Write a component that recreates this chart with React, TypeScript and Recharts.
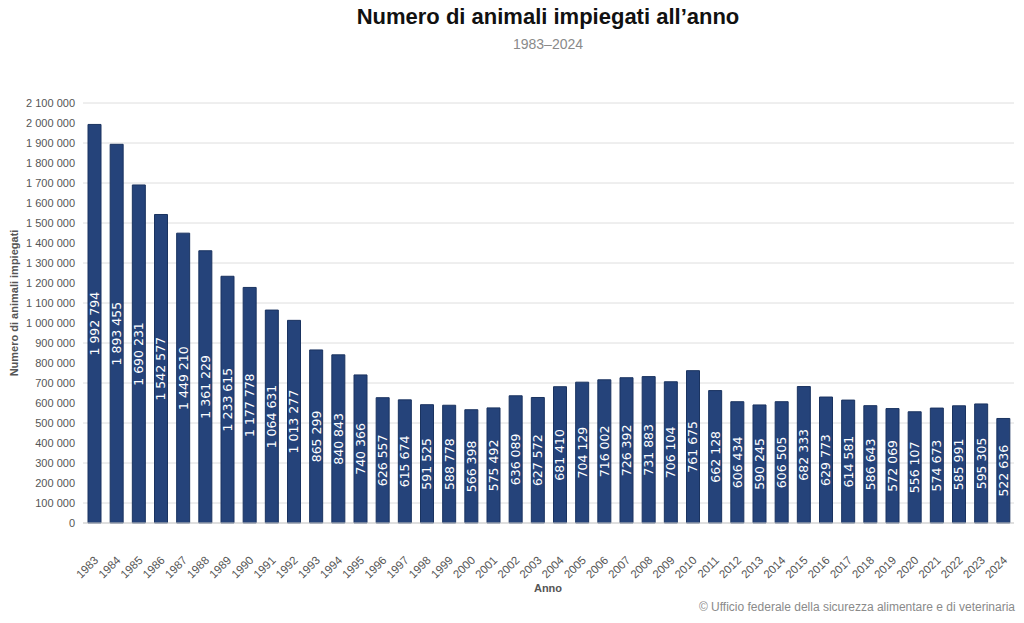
import React from 'react';
import { BarChart, Bar, XAxis, YAxis, CartesianGrid, LabelList } from 'recharts';

const YEARS = [
  '1983', '1984', '1985', '1986', '1987', '1988', '1989', '1990', '1991', '1992',
  '1993', '1994', '1995', '1996', '1997', '1998', '1999', '2000', '2001', '2002',
  '2003', '2004', '2005', '2006', '2007', '2008', '2009', '2010', '2011', '2012',
  '2013', '2014', '2015', '2016', '2017', '2018', '2019', '2020', '2021', '2022',
  '2023', '2024',
];

const ANIMALS = [
  1992794, 1893455, 1690231, 1542577, 1449210, 1361229, 1233615, 1177778, 1064631, 1013277,
  865299, 840843, 740366, 626557, 615674, 591525, 588778, 566398, 575492, 636089,
  627572, 681410, 704129, 716002, 726392, 731883, 706104, 761675, 662128, 606434,
  590245, 606505, 682333, 629773, 614581, 586643, 572069, 556107, 574673, 585991,
  595305, 522636,
];

const Y_TICKS = [
  0, 100000, 200000, 300000, 400000, 500000, 600000, 700000, 800000, 900000, 1000000,
  1100000, 1200000, 1300000, 1400000, 1500000, 1600000, 1700000, 1800000, 1900000,
  2000000, 2100000,
];

const data = YEARS.map((year, i) => ({ year, value: ANIMALS[i] }));

// separatore delle migliaia: spazio
const fmt = (v: number) => String(v).replace(/\B(?=(\d{3})+(?!\d))/g, ' ');

const SANS = '"Liberation Sans", Arial, sans-serif';

const YearTick = (props: any) => {
  const { x, y, payload } = props;
  return (
    <g transform={`translate(${x + 5},${y + 30})`}>
      <text
        x={0}
        y={0}
        textAnchor="end"
        transform="rotate(-45)"
        fontSize={11.5}
        fontFamily={SANS}
        fill="#555"
      >
        {payload.value}
      </text>
    </g>
  );
};

const BarLabel = (props: any) => {
  const { x, y, width, height, value } = props;
  const cx = x + width / 2;
  const cy = y + height / 2;
  return (
    <text
      x={cx}
      y={cy}
      textAnchor="middle"
      dominantBaseline="central"
      transform={`rotate(-90, ${cx}, ${cy})`}
      fontSize={12.5}
      fontFamily='"DejaVu Sans", sans-serif'
      fill="#ffffff"
    >
      {fmt(value)}
    </text>
  );
};

export default function App() {
  return (
    <div style={{ position: 'absolute', left: 0, top: 0, width: 1024, height: 623, background: '#fff', fontFamily: SANS }}>
      <div style={{ position: 'absolute', left: 0, width: 1096, top: 4, textAlign: 'center', fontSize: 22, fontWeight: 'bold', color: '#111' }}>
        Numero di animali impiegati all’anno
      </div>
      <div style={{ position: 'absolute', left: 0, width: 1096, top: 36, textAlign: 'center', fontSize: 14, color: '#8a8a8a' }}>
        1983–2024
      </div>
      <BarChart
        width={1024}
        height={623}
        data={data}
        margin={{ top: 103, right: 10, bottom: 40, left: 8 }}
      >
        <CartesianGrid vertical={false} stroke="#dedede" />
        <XAxis
          dataKey="year"
          tick={<YearTick />}
          tickLine={false}
          axisLine={{ stroke: '#cfcfcf' }}
          interval={0}
          height={60}
        />
        <YAxis
          width={75}
          domain={[0, 2100000]}
          ticks={Y_TICKS}
          tickFormatter={fmt}
          tick={{ fontSize: 11, fill: '#555', fontFamily: SANS }}
          tickLine={false}
          axisLine={false}
          tickMargin={2}
        />
        <Bar dataKey="value" fill="#25437a" stroke="#1a3360" strokeWidth={1} barSize={13} isAnimationActive={false}>
          <LabelList dataKey="value" content={<BarLabel />} />
        </Bar>
        <text
          x={14}
          y={303}
          textAnchor="middle"
          dominantBaseline="central"
          transform="rotate(-90, 14, 303)"
          fontSize={11}
          fontWeight="bold"
          fontFamily={SANS}
          fill="#555"
        >
          Numero di animali impiegati
        </text>
        <text x={548} y={592} textAnchor="middle" fontSize={11} fontWeight="bold" fontFamily={SANS} fill="#555">
          Anno
        </text>
        <text x={1015} y={611} textAnchor="end" fontSize={12} fontFamily={SANS} fill="#8a8a8a">
          © Ufficio federale della sicurezza alimentare e di veterinaria
        </text>
      </BarChart>
    </div>
  );
}
